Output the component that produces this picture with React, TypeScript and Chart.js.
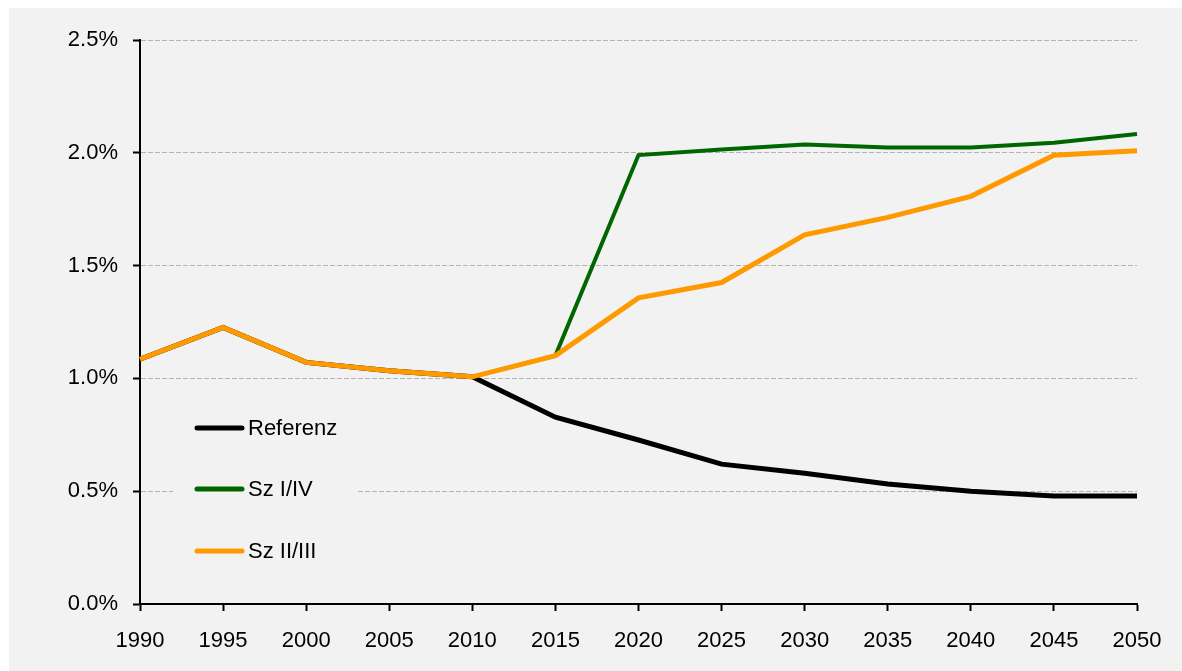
import React, { useEffect, useRef } from "react";
import { Chart, registerables } from "chart.js";

Chart.register(...registerables);

const years = ["1990", "1995", "2000", "2005", "2010", "2015", "2020", "2025", "2030", "2035", "2040", "2045", "2050"];
const referenz = [1.085, 1.226, 1.071, 1.034, 1.007, 0.828, 0.727, 0.62, 0.58, 0.532, 0.5, 0.479, 0.479];
const szIIV = [1.085, 1.226, 1.071, 1.034, 1.007, 1.101, 1.99, 2.015, 2.037, 2.024, 2.023, 2.045, 2.083];
const szIIIII = [1.085, 1.226, 1.071, 1.034, 1.007, 1.101, 1.357, 1.425, 1.636, 1.714, 1.807, 1.989, 2.009];
const yTicks = [0, 0.5, 1.0, 1.5, 2.0, 2.5];

const FONT = "'Liberation Sans', Arial, sans-serif";
const BG = "#f2f2f2";

const legendPlugin = {
  id: "insideLegend",
  beforeDatasetsDraw(chart: any) {
    const { ctx, chartArea } = chart;
    const x0 = chartArea.left;
    const y0 = chartArea.top;
    ctx.save();
    ctx.fillStyle = BG;
    ctx.fillRect(x0 + 33, y0 + 350, 185, 180);
    ctx.restore();
  },
  afterDatasetsDraw(chart: any) {
    const { ctx, chartArea } = chart;
    const x0 = chartArea.left;
    const y0 = chartArea.top;
    const rows = [388, 449, 511];
    ctx.save();
    chart.data.datasets.forEach((ds: any, i: number) => {
      const y = y0 + rows[i];
      ctx.beginPath();
      ctx.strokeStyle = ds.borderColor;
      ctx.lineWidth = 5;
      ctx.lineCap = "round";
      ctx.moveTo(x0 + 57, y);
      ctx.lineTo(x0 + 102, y);
      ctx.stroke();
      ctx.fillStyle = "#000";
      ctx.font = `22px ${FONT}`;
      ctx.textBaseline = "middle";
      ctx.textAlign = "left";
      ctx.fillText(ds.label, x0 + 108, y + 1);
    });
    ctx.restore();
  },
};

export default function App() {
  const ref = useRef<HTMLCanvasElement>(null);
  useEffect(() => {
    document.documentElement.style.overflow = "hidden";
    document.body.style.overflow = "hidden";
    if (!ref.current) return;
    const chart = new Chart(ref.current, {
      type: "line",
      data: {
        labels: years,
        datasets: [
          { label: "Referenz", data: referenz, borderColor: "#000000", borderWidth: 5, order: 3 },
          { label: "Sz I/IV", data: szIIV, borderColor: "#006600", borderWidth: 4, order: 2 },
          { label: "Sz II/III", data: szIIIII, borderColor: "#ff9900", borderWidth: 5, order: 1 },
        ],
      },
      options: {
        animation: false,
        responsive: false,
        devicePixelRatio: 1,
        elements: { point: { radius: 0, hoverRadius: 0 }, line: { tension: 0, borderJoinStyle: "miter" } },
        layout: { padding: { top: 32, right: 45, left: 0, bottom: 0 } },
        plugins: { legend: { display: false }, tooltip: { enabled: false } },
        scales: {
          x: {
            type: "category",
            offset: false,
            grid: { display: true, drawOnChartArea: false, drawTicks: true, tickLength: 7, tickColor: "#000", tickWidth: 2 },
            border: { display: true, color: "#000", width: 2 },
            ticks: { color: "#000", font: { family: FONT, size: 22 }, padding: 17, maxRotation: 0, autoSkip: false },
            afterFit: (s: any) => { s.height = 67; },
          },
          y: {
            min: 0,
            max: 2.5,
            afterBuildTicks: (s: any) => { s.ticks = yTicks.map((v) => ({ value: v })); },
            grid: { color: "#b4b4b4", lineWidth: 1, tickLength: 7, tickColor: "#000", tickWidth: 2, tickBorderDash: [], drawTicks: true },
            border: { display: true, color: "#000", width: 2, dash: [5, 2] },
            ticks: {
              color: "#000",
              font: { family: FONT, size: 22 },
              padding: 15,
              callback: (v: any) => Number(v).toFixed(1) + "%",
            },
            afterFit: (s: any) => { s.width = 131; },
          },
        },
      },
      plugins: [legendPlugin],
    });
    return () => chart.destroy();
  }, []);
  return (
    <div style={{ position: "fixed", left: 9, top: 8, width: 1173, height: 663, background: BG }}>
      <canvas ref={ref} width={1173} height={663} style={{ display: "block" }} />
    </div>
  );
}
